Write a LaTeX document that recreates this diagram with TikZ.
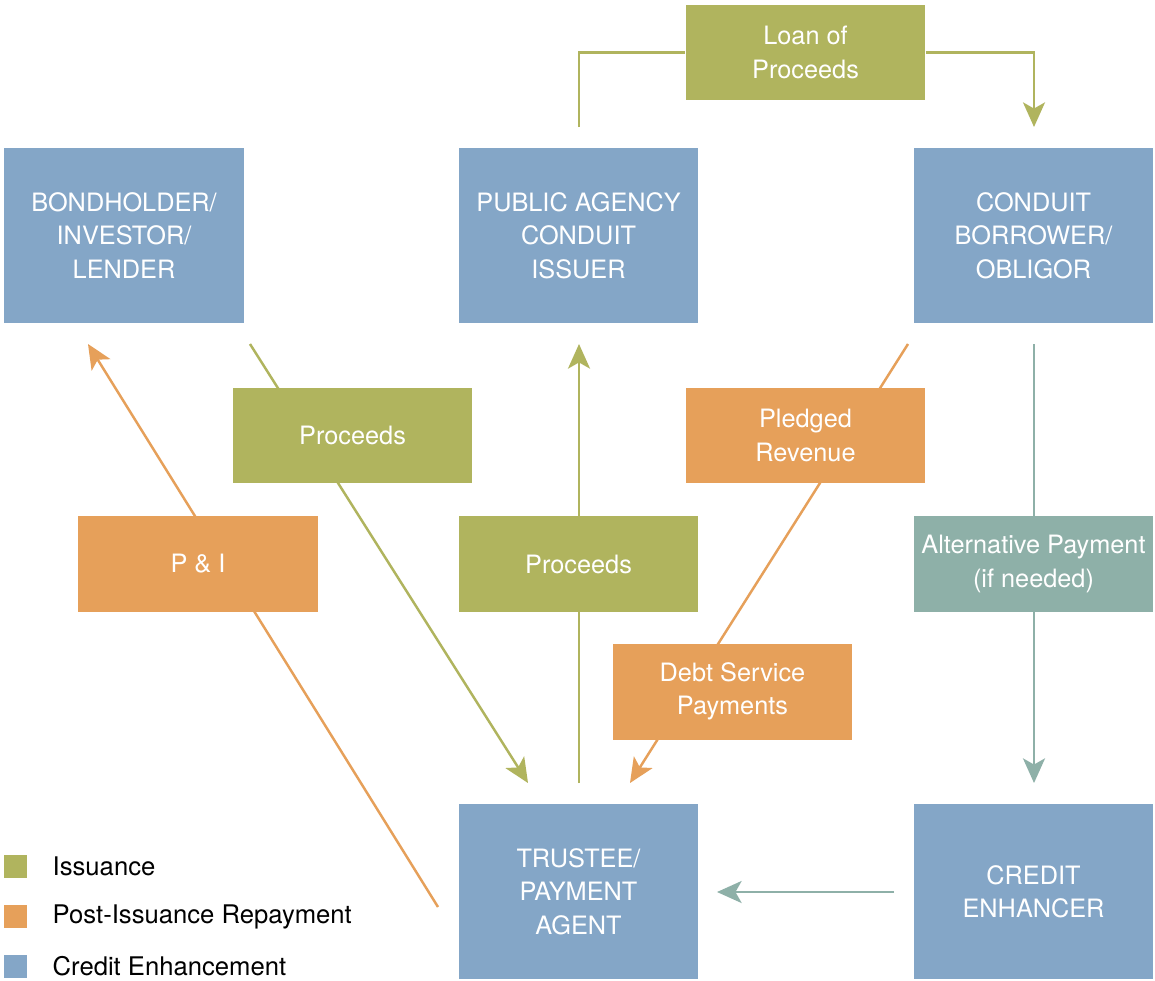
\documentclass[tikz,border=0pt]{standalone}
\usepackage{fontspec}
\setmainfont{TeX Gyre Heros}
\usetikzlibrary{arrows.meta,backgrounds,positioning}
\definecolor{issuegreen}{HTML}{B0B45E}
\definecolor{repayorange}{HTML}{E6A05A}
\definecolor{enhanceblue}{HTML}{84A6C7}
\definecolor{altteal}{HTML}{8EB0A8}
\tikzset{
  boxfont/.style={font=\fontsize{14.4}{19}\selectfont},
  party/.style={boxfont,fill=enhanceblue,text=white,align=center,inner sep=0pt,
    minimum width=4.8cm,minimum height=3.52cm},
  flow/.style={boxfont,text=white,align=center,inner sep=0pt,
    minimum width=4.8cm,minimum height=1.92cm},
  wire/.style={line width=1.4pt},
  link/.style={wire,-{Stealth[length=14pt,width=12.5pt,inset=3.5pt]}},
  legbox/.style={inner sep=0pt,minimum size=0.46cm},
  legtext/.style={font=\fontsize{14.6}{19}\selectfont,inner sep=0pt,right=0.5cm of #1}
}
\begin{document}
\begin{tikzpicture}[x=0.02cm,y=-0.02cm]
\useasboundingbox (0,0) rectangle (1155,980);

% parties
\node[party] (bond) at (124,235.5) {BONDHOLDER/\\INVESTOR/\\LENDER};
\node[party] (agency) at (578.5,235.5) {PUBLIC AGENCY\\CONDUIT\\ISSUER};
\node[party] (borrower) at (1033.5,235.5) {CONDUIT\\BORROWER/\\OBLIGOR};
\node[party] (trustee) at (578.5,891.5) {TRUSTEE/\\PAYMENT\\AGENT};
\node[party] (enhancer) at (1033.5,891.5) {CREDIT\\ENHANCER};

% flows
\node[flow,fill=issuegreen] (loan) at (805.5,52.5) {Loan of\\Proceeds};
\node[flow,fill=issuegreen] (procA) at (352.5,435.5) {Proceeds};
\node[flow,fill=issuegreen] (procB) at (578.5,564) {Proceeds};
\node[flow,fill=repayorange] (pni) at (198,564) {P \& I};
\node[flow,fill=repayorange] (pledged) at (805.5,435.5) {Pledged\\Revenue};
\node[flow,fill=repayorange] (debt) at (732.5,691.5) {Debt Service\\Payments};
\node[flow,fill=altteal] (alt) at (1033.5,564) {Alternative Payment\\(if needed)};

% line ends
\coordinate (loan-out) at (579,127);
\coordinate (loan-in) at (1034,127);
\coordinate (procA-out) at (250,344);
\coordinate (procA-in) at (528,783);
\coordinate (procB-out) at (579,783);
\coordinate (procB-in) at (579,344);
\coordinate (pni-out) at (438,907);
\coordinate (pni-in) at (88,344);
\coordinate (pledged-out) at (908,344);
\coordinate (pledged-in) at (630,783);
\coordinate (alt-out) at (1034,344);
\coordinate (alt-in) at (1034,783);
\coordinate (enh-out) at (894,892);
\coordinate (enh-in) at (717,892);

\begin{pgfonlayer}{background}
\fill[white] (0,0) rectangle (1155,980);
\draw[wire,issuegreen] (loan-out) |- (loan.west);
\draw[link,issuegreen] (loan.east) -| (loan-in);
\draw[link,issuegreen] (procA-out) -- (procA-in);
\draw[link,issuegreen] (procB-out) -- (procB-in);
\draw[link,repayorange] (pni-out) -- (pni-in);
\draw[link,repayorange] (pledged-out) -- (pledged-in);
\draw[link,altteal] (alt-out) -- (alt-in);
\draw[link,altteal] (enh-out) -- (enh-in);
\end{pgfonlayer}

% legend
\node[legbox,fill=issuegreen] (leg1) at (15.5,866.5) {};
\node[legbox,fill=repayorange] (leg2) at (15.5,916.5) {};
\node[legbox,fill=enhanceblue] (leg3) at (15.5,966.5) {};
\node[legtext=leg1] (leg1t) {Issuance};
\node[legtext=leg2] (leg2t) {Post-Issuance Repayment};
\node[legtext=leg3] (leg3t) {Credit Enhancement};
\end{tikzpicture}
\end{document}
